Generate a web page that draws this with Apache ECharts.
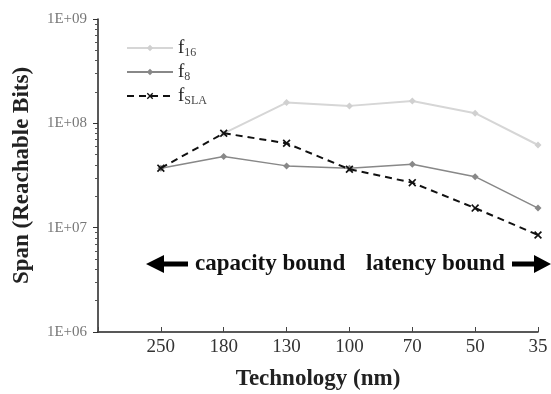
<!DOCTYPE html>
<html>
<head>
<meta charset="utf-8">
<script src="https://cdn.jsdelivr.net/npm/echarts@6/dist/echarts.min.js"></script>
<style>html,body{margin:0;padding:0;background:#fff}#c{width:551px;height:394px}</style>
</head>
<body>
<div id="c"></div>
<script>
var categories = ['', '250', '180', '130', '100', '70', '50', '35'];
var f16 = [null, null, 8.0e7, 1.58e8, 1.47e8, 1.64e8, 1.25e8, 6.2e7];
var f8 = [null, 3.72e7, 4.8e7, 3.91e7, 3.72e7, 4.06e7, 3.08e7, 1.54e7];
var fSLA = [null, 3.72e7, 8.04e7, 6.44e7, 3.63e7, 2.70e7, 1.54e7, 8.5e6];
var yTicks = ['1E+06', '1E+07', '1E+08', '1E+09'];

var serif = 'Liberation Serif';
var chart = echarts.init(document.getElementById('c'), null, {renderer: 'canvas'});
var xMark = 'path://M0,1.5L1.5,0L5,3.5L8.5,0L10,1.5L6.5,5L10,8.5L8.5,10L5,6.5L1.5,10L0,8.5L3.5,5Z';
var legendRich = {
  f: {fontFamily: serif, fontSize: 19, color: '#222', lineHeight: 20},
  s: {fontFamily: serif, fontSize: 12, color: '#444', lineHeight: 20, padding: [10, 0, 0, 0]}
};
chart.setOption({
  animation: false,
  backgroundColor: '#fff',
  grid: {left: 98, right: 13, top: 19, bottom: 62, containLabel: false, outerBoundsMode: 'none'},
  legend: {
    orient: 'vertical', left: 126, top: 37, itemWidth: 46, itemHeight: 8, itemGap: 2,
    padding: 0,
    data: ['f16', 'f8', 'fSLA'],
    formatter: function (n) { return '{f|f}{s|' + n.slice(1) + '}'; },
    textStyle: {rich: legendRich}
  },
  xAxis: {
    type: 'category', data: categories, boundaryGap: false,
    axisLine: {lineStyle: {color: '#222', width: 1.5}},
    axisTick: {inside: true, length: 5, lineStyle: {color: '#444'}},
    axisLabel: {fontFamily: serif, fontSize: 19, color: '#333', margin: 6},
    name: 'Technology (nm)', nameLocation: 'middle', nameGap: 36,
    nameTextStyle: {fontFamily: serif, fontSize: 23, fontWeight: 'bold', color: '#222'},
    splitLine: {show: false}
  },
  yAxis: {
    type: 'log', logBase: 10, min: 1e6, max: 1e9,
    axisLine: {show: true, lineStyle: {color: '#222', width: 1.5}},
    axisTick: {show: true, length: 5, lineStyle: {color: '#333'}},
    minorTick: {show: true, splitNumber: 9, length: 3, lineStyle: {color: '#555'}},
    axisLabel: {fontFamily: serif, fontSize: 15, color: '#777', margin: 11,
      formatter: function (v) { var e = Math.round(Math.log10(v)); return yTicks[e - 6]; }},
    splitLine: {show: false},
    name: 'Span (Reachable Bits)', nameLocation: 'middle', nameGap: 64,
    nameTextStyle: {fontFamily: serif, fontSize: 23, fontWeight: 'bold', color: '#222'}
  },
  series: [
    {name: 'f16', type: 'line', data: f16, symbol: 'diamond', symbolSize: 7,
      lineStyle: {color: '#d6d6d6', width: 2}, itemStyle: {color: '#d0d0d0'}, z: 2},
    {name: 'f8', type: 'line', data: f8, symbol: 'diamond', symbolSize: 7,
      lineStyle: {color: '#888', width: 1.5}, itemStyle: {color: '#888'}, z: 3},
    {name: 'fSLA', type: 'line', data: fSLA, symbol: xMark, symbolSize: 8,
      lineStyle: {color: '#111', width: 2, type: [7, 5]}, itemStyle: {color: '#111'}, z: 4}
  ],
  graphic: [
    {type: 'polygon', shape: {points: [[146, 264], [164, 255], [164, 261.5], [188, 261.5], [188, 266.5], [164, 266.5], [164, 273]]}, style: {fill: '#000'}},
    {type: 'text', left: 195, top: 253, style: {text: 'capacity bound', fontFamily: serif, fontSize: 23, fontWeight: 'bold', fill: '#111'}},
    {type: 'text', left: 366, top: 253, style: {text: 'latency bound', fontFamily: serif, fontSize: 23, fontWeight: 'bold', fill: '#111'}},
    {type: 'polygon', shape: {points: [[551, 264], [534, 255], [534, 261.5], [512, 261.5], [512, 266.5], [534, 266.5], [534, 273]]}, style: {fill: '#000'}}
  ]
});
</script>
</body>
</html>
